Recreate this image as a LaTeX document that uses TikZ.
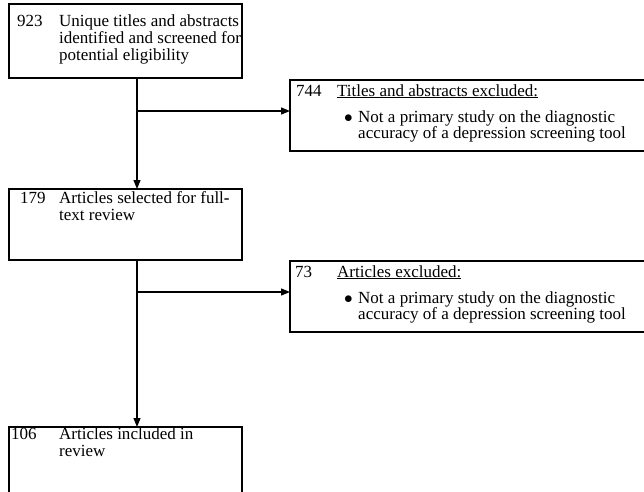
\documentclass[tikz,border=0pt]{standalone}
\usepackage{fontspec}
\setmainfont{Liberation Serif}
\usetikzlibrary{arrows.meta}
\tikzset{
  box/.style={draw, line width=1.2pt, anchor=north west, inner sep=0pt, outer sep=0pt},
  lbl/.style={anchor=base west, inner sep=0pt, align=left, font=\fontsize{17}{17}\selectfont},
  arr/.style={line width=1.2pt, -{Triangle[length=9pt,width=7pt]}}
}
\begin{document}
\begin{tikzpicture}[x=1pt,y=-1pt]
\useasboundingbox (0,0) rectangle (644,491);
\clip (0,0) rectangle (644,491);
% left boxes
\node[box, minimum width=233pt, minimum height=74pt] (b1) at (9,4) {};
\node[box, minimum width=233pt, minimum height=71pt] (b2) at (9,189) {};
\node[box, minimum width=233pt, minimum height=80pt] (b5) at (9,427) {};
% right boxes (extend past right edge)
\node[box, minimum width=370pt, minimum height=71pt] (b3) at (290,80) {};
\node[box, minimum width=370pt, minimum height=71pt] (b4) at (290,261) {};
% texts box1 (base = last line)
\node[lbl] (n1) at (17,26) {923};
\node[lbl] (t1) at (59,60) {Unique titles and abstracts\\identified and screened for\\potential eligibility};
% box2
\node[lbl] (n2) at (20,203) {179};
\node[lbl] (t2) at (59,220) {Articles selected for full{\bfseries -}\\text review};
% box5
\node[lbl] (n5) at (11,439) {106};
\node[lbl] (t5) at (59,456) {Articles included in\\review};
% box3
\node[lbl] (n3) at (296,96) {744};
\node[lbl] (h3) at (337,96) {\underline{Titles and abstracts excluded:}};
\node[lbl] (d3) at (344,122) {$\bullet$};
\node[lbl, font=\fontsize{17}{16}\selectfont] (t3) at (358,138) {Not a primary study on the diagnostic\\accuracy of a depression screening tool};
% box4
\node[lbl] (n4) at (295,277) {73};
\node[lbl] (h4) at (337,277) {\underline{Articles excluded:}};
\node[lbl] (d4) at (344,303) {$\bullet$};
\node[lbl, font=\fontsize{17}{16}\selectfont] (t4) at (358,319) {Not a primary study on the diagnostic\\accuracy of a depression screening tool};
% connectors
\coordinate (j1) at (137,111);
\coordinate (j2) at (137,292);
\draw[arr] (b1.south -| j1) -- (b2.north -| j1);
\draw[arr] (j1) -- (j1 -| b3.west);
\draw[arr] (b2.south -| j2) -- (b5.north -| j2);
\draw[arr] (j2) -- (j2 -| b4.west);
\end{tikzpicture}
\end{document}
